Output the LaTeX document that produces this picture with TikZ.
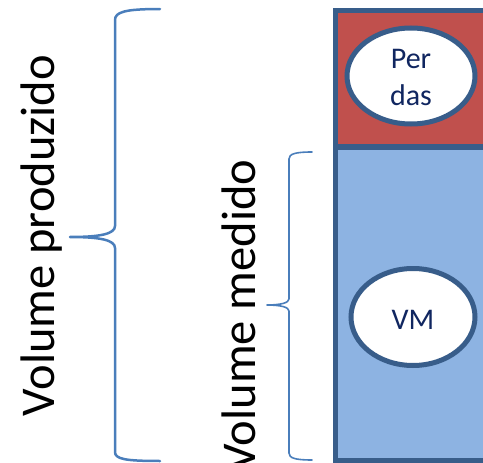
\documentclass[tikz,border=0pt]{standalone}
\usepackage{fontspec}
\setmainfont{Carlito}
\usetikzlibrary{shapes.geometric}
\definecolor{boxline}{HTML}{385D8A}
\definecolor{redfill}{HTML}{C0504D}
\definecolor{bluefill}{HTML}{8DB3E2}
\definecolor{bracecol}{HTML}{4A7EBB}
\definecolor{navy}{RGB}{16,38,96}
\tikzset{
  bigtext/.style={font=\fontsize{48.5}{58}\selectfont, text=black, rotate=90, anchor=base, inner sep=0pt},
  bubble/.style={ellipse, draw=boxline, line width=5pt, fill=white, inner sep=0pt},
  bubbletext/.style={font=\fontsize{30}{37}\selectfont, text=navy, align=center},
  brace/.style={draw=bracecol, line cap=round, line join=round}
}
\begin{document}
\begin{tikzpicture}[x=1pt,y=-1pt]
\useasboundingbox (0,0) rectangle (483,463);
\clip (0,0) rectangle (483,463);
% column
\fill[redfill] (335.5,10) rectangle (495,147);
\fill[bluefill] (335.5,147) rectangle (495,460);
\draw[boxline, line width=5pt] (495,10) -- (335.5,10) -- (335.5,460) -- (495,460);
\draw[boxline, line width=6pt] (335.5,147) -- (495,147);
% ellipses
\node[bubble, minimum width=128pt, minimum height=96pt] (perdas) at (411,76) {};
\node[bubbletext] (perdastext) at (411,77) {Per\\das};
\node[bubble, minimum width=124pt, minimum height=97pt] (vm) at (413,317) {};
\node[bubbletext] (vmtext) at (413,320) {VM};
% braces
\draw[brace, line width=2.5pt] (160,9) .. controls (125,9) and (115,12) .. (115,20) -- (115,226)
  .. controls (115,234) and (100,237) .. (70,237)
  .. controls (100,237) and (115,240) .. (115,248) -- (115,452)
  .. controls (115,459) and (125,461) .. (160,461);
\draw[brace, line width=1.6pt] (312,152) .. controls (295,152) and (289,154) .. (289,159) -- (289,299)
  .. controls (289,303) and (280,305) .. (267,305)
  .. controls (280,305) and (289,307) .. (289,311) -- (289,453)
  .. controls (289,458) and (295,460) .. (312,460);
% labels
\node[bigtext] (prod) at (55,235.5) {Volume produzido};
\node[bigtext] (med) at (255,315.5) {Volume medido};
\end{tikzpicture}
\end{document}
